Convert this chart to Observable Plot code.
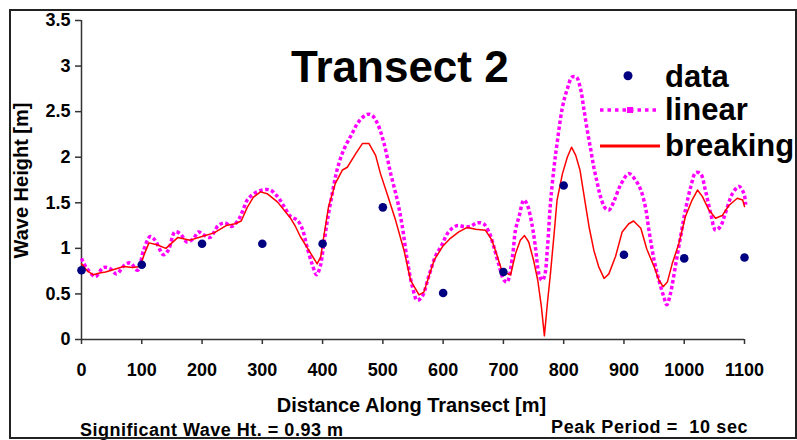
<!DOCTYPE html>
<html>
<head>
<meta charset="utf-8">
<script src="https://cdn.jsdelivr.net/npm/d3@7"></script>
<script src="https://cdn.jsdelivr.net/npm/@observablehq/plot@0.6"></script>
<style>
  html, body { margin: 0; padding: 0; background: #fff; }
  #wrap { position: relative; width: 797px; height: 440px; overflow: hidden; font-family: "Liberation Sans", Arial, sans-serif; font-weight: bold; color: #000; }
  #wrap .t { position: absolute; white-space: pre; line-height: normal; }
  #frame { position: absolute; left: 9px; top: 9px; width: 788px; height: 430px; box-sizing: border-box; border: 2px solid #222; pointer-events: none; }
  #legend { position: absolute; left: 0; top: 0; pointer-events: none; }
</style>
</head>
<body>
<div id="wrap"></div>
<script>
// ---- data ----
const dataX = [0, 100, 200, 300, 400, 500, 600, 700, 800, 900, 1000, 1100];
const dataY = [0.76, 0.82, 1.05, 1.05, 1.05, 1.45, 0.51, 0.74, 1.69, 0.93, 0.89, 0.90];

const linearX = [0, 9, 23, 36, 47, 58, 72, 81, 93, 103, 114, 122, 136, 144, 155, 164, 175, 186, 194, 202,
  213, 227, 238, 249, 260, 268, 275, 286, 300, 313, 325, 336, 347, 358, 366, 374, 383, 390, 396, 402,
  409, 416, 424, 435, 449, 460, 474, 482, 491, 502, 513, 524, 532, 540, 549, 557, 565, 576, 587, 598,
  609, 623, 634, 645, 656, 667, 676, 684, 692, 701, 706, 715, 720, 726, 734, 740, 748, 753, 759, 764,
  768, 773, 778, 784, 789, 798, 806, 814, 821, 828, 833, 839, 845, 850, 856, 861, 869, 875, 883, 894,
  908, 919, 928, 936, 941, 950, 958, 966, 971, 977, 986, 994, 1002, 1011, 1019, 1027, 1035, 1044, 1052, 1060,
  1069, 1080, 1091, 1099, 1102];
const linearY = [0.89, 0.78, 0.69, 0.79, 0.78, 0.72, 0.82, 0.84, 0.76, 0.98, 1.13, 1.09, 0.93, 0.98, 1.18, 1.16, 1.07, 1.11, 1.18, 1.15,
  1.12, 1.25, 1.28, 1.24, 1.31, 1.42, 1.53, 1.60, 1.64, 1.64, 1.57, 1.46, 1.35, 1.31, 1.22, 1.02, 0.82, 0.71, 0.80, 1.05,
  1.35, 1.60, 1.86, 2.08, 2.26, 2.39, 2.47, 2.46, 2.37, 2.15, 1.82, 1.53, 1.25, 0.89, 0.58, 0.43, 0.47, 0.69, 0.91, 1.04,
  1.18, 1.25, 1.24, 1.24, 1.28, 1.27, 1.18, 1.02, 0.83, 0.65, 0.63, 0.91, 1.20, 1.35, 1.53, 1.47, 1.24, 1.02, 0.72, 0.65,
  0.69, 1.00, 1.49, 1.89, 2.15, 2.55, 2.75, 2.88, 2.88, 2.75, 2.55, 2.30, 2.08, 1.89, 1.71, 1.57, 1.44, 1.42, 1.51, 1.69,
  1.82, 1.75, 1.64, 1.44, 1.22, 0.87, 0.65, 0.47, 0.38, 0.50, 0.83, 1.13, 1.42, 1.68, 1.83, 1.82, 1.64, 1.38, 1.20, 1.24,
  1.40, 1.60, 1.68, 1.60, 1.48];

const breakingX = [0, 10, 20, 30, 40, 55, 70, 85, 97, 105, 112, 125, 140, 160, 180, 200, 220, 240, 255, 265,
  275, 285, 297, 308, 325, 347, 355, 363, 377, 391, 397, 402, 410, 421, 433, 441, 455, 466, 477, 488,
  496, 507, 521, 535, 546, 560, 568, 585, 599, 612, 626, 640, 654, 670, 681, 690, 698, 712, 720, 728,
  735, 742, 750, 757, 763, 768, 773, 778, 784, 789, 798, 806, 813, 820, 827, 834, 842, 850, 858, 867,
  875, 886, 897, 908, 916, 928, 938, 950, 958, 965, 972, 980, 991, 1002, 1013, 1022, 1030, 1041, 1052, 1063,
  1074, 1088, 1097, 1100];
const breakingY = [0.83, 0.75, 0.71, 0.73, 0.74, 0.77, 0.80, 0.79, 0.80, 0.95, 1.06, 1.04, 1.00, 1.12, 1.09, 1.13, 1.17, 1.25, 1.27, 1.30,
  1.45, 1.56, 1.62, 1.60, 1.51, 1.33, 1.24, 1.13, 0.98, 0.83, 0.91, 1.13, 1.46, 1.71, 1.86, 1.89, 2.04, 2.15, 2.15, 2.02,
  1.82, 1.60, 1.31, 0.98, 0.65, 0.49, 0.52, 0.87, 1.02, 1.11, 1.18, 1.23, 1.21, 1.20, 1.09, 0.91, 0.74, 0.71, 0.94, 1.09,
  1.14, 1.07, 0.87, 0.65, 0.36, 0.04, 0.40, 0.72, 1.15, 1.53, 1.82, 2.00, 2.11, 2.02, 1.86, 1.57, 1.24, 0.98, 0.80, 0.67,
  0.72, 0.91, 1.18, 1.27, 1.30, 1.22, 0.99, 0.80, 0.65, 0.58, 0.63, 0.83, 1.05, 1.35, 1.53, 1.64, 1.57, 1.42, 1.33, 1.36,
  1.47, 1.55, 1.53, 1.46];

const xTicks = [0, 100, 200, 300, 400, 500, 600, 700, 800, 900, 1000, 1100];
const yTicks = [0, 0.5, 1, 1.5, 2, 2.5, 3, 3.5];
const yTickLabels = ["0", "0.5", "1", "1.5", "2", "2.5", "3", "3.5"];

const titleText = "Transect 2";
const xTitle = "Distance Along Transect [m]";
const yTitle = "Wave Height [m]";
const noteLeft = "Significant Wave Ht. = 0.93 m";
const noteRight = "Peak Period =  10 sec";
const legendLabels = ["data", "linear", "breaking"];

// ---- build tables ----
const dataPts = dataX.map((x, i) => ({x, y: dataY[i]}));
const linearPts = linearX.map((x, i) => ({x, y: linearY[i]}));
const breakingPts = breakingX.map((x, i) => ({x, y: breakingY[i]}));

const font = "'Liberation Sans', Arial, sans-serif";

const chart = Plot.plot({
  width: 797,
  height: 440,
  marginLeft: 81,
  marginRight: 53,
  marginTop: 20,
  marginBottom: 101,
  x: {domain: [0, 1100]},
  y: {domain: [0, 3.5]},
  style: {fontFamily: font, fontSize: "18px", fontWeight: "bold", color: "#000", background: "transparent"},
  marks: [
    Plot.axisY({ticks: yTicks, tickSize: 6, tickPadding: 5, stroke: "#333", strokeWidth: 1.5,
      tickFormat: (d) => yTickLabels[yTicks.indexOf(d)], label: null, fontSize: 18, fontWeight: "bold", fill: "#000"}),
    Plot.axisX({ticks: xTicks, tickSize: 5, tickPadding: 19, stroke: "#333", strokeWidth: 1.5,
      tickFormat: (d) => String(d), label: null, fontSize: 18, fontWeight: "bold", fill: "#000"}),
    Plot.ruleX([0], {stroke: "#333", strokeWidth: 1.5}),
    Plot.ruleY([0], {stroke: "#333", strokeWidth: 1.5}),
    Plot.line(linearPts, {x: "x", y: "y", stroke: "#FF00FF", strokeWidth: 3.5, strokeDasharray: "3.5,2.5",
      strokeLinecap: "butt", strokeLinejoin: "miter", curve: "catmull-rom"}),
    Plot.line(breakingPts, {x: "x", y: "y", stroke: "#FF0000", strokeWidth: 1.5, curve: "linear"}),
    Plot.dot(dataPts, {x: "x", y: "y", r: 4.3, fill: "#000080", stroke: "none"})
  ]
});

const wrap = document.getElementById("wrap");
wrap.appendChild(chart);

function addText(txt, left, top, size, extra) {
  const d = document.createElement("div");
  d.className = "t";
  d.textContent = txt;
  d.style.left = left + "px";
  d.style.top = top + "px";
  d.style.fontSize = size + "px";
  if (extra) Object.assign(d.style, extra);
  wrap.appendChild(d);
  return d;
}

// title
addText(titleText, 291, 82 - 0.905 * 44, 44);
// legend labels
addText(legendLabels[0], 665, 87 - 0.905 * 31, 31);
addText(legendLabels[1], 665, 120.5 - 0.905 * 31, 31);
addText(legendLabels[2], 665, 156.5 - 0.905 * 31, 31);
// x axis title
addText(xTitle, 411.5, 412.5 - 0.905 * 20, 20, {transform: "translateX(-50%)"});
// y axis title (rotated)
addText(yTitle, -78.6, 168.5, 20, {width: "200px", textAlign: "center", lineHeight: "23px", transform: "rotate(-90deg)", transformOrigin: "50% 50%"});
// notes
addText(noteLeft, 80, 436 - 0.905 * 18, 18, {letterSpacing: "0.5px"});
addText(noteRight, 551, 433.3 - 0.905 * 18, 18, {letterSpacing: "0.65px"});

// legend swatches
const ns = "http://www.w3.org/2000/svg";
const lg = document.createElementNS(ns, "svg");
lg.setAttribute("id", "legend");
lg.setAttribute("width", 797);
lg.setAttribute("height", 440);
lg.innerHTML = `
  <circle cx="628" cy="75.7" r="4.5" fill="#000080"/>
  <line x1="600" y1="110" x2="658" y2="110" stroke="#FF00FF" stroke-width="3.5" stroke-dasharray="3.5,4"/>
  <rect x="627" y="107" width="6" height="6" fill="#FF00FF"/>
  <line x1="600" y1="146" x2="660" y2="146" stroke="#FF0000" stroke-width="3"/>`;
wrap.appendChild(lg);

const fr = document.createElement("div");
fr.id = "frame";
wrap.appendChild(fr);
</script>
</body>
</html>
